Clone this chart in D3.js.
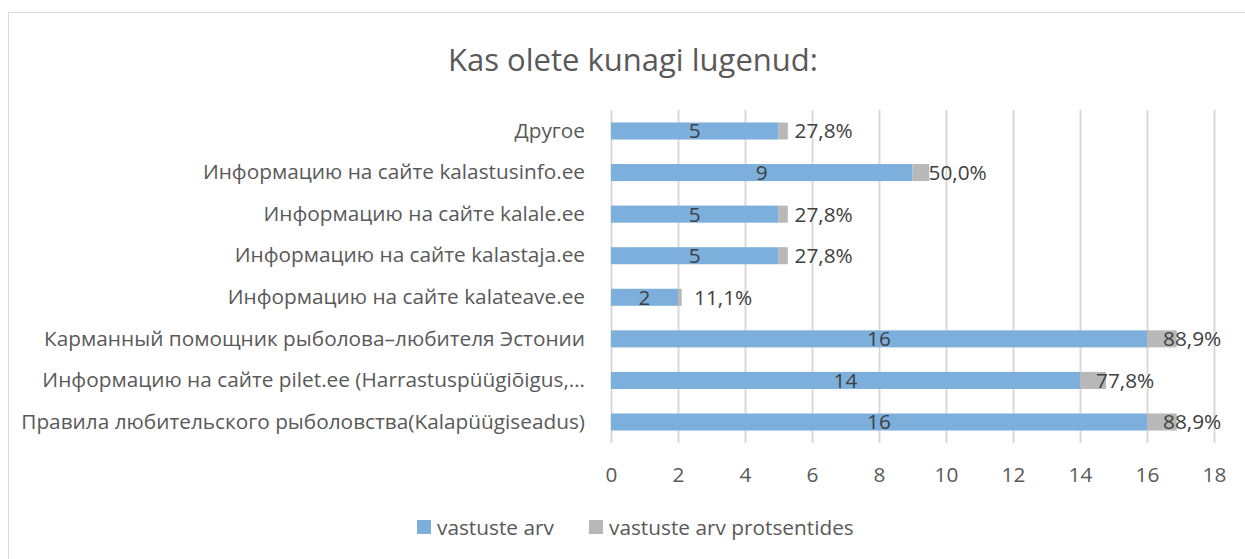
<!DOCTYPE html>
<html>
<head>
<meta charset="utf-8">
<script src="https://cdn.jsdelivr.net/npm/d3@7"></script>
<style>
  body { margin: 0; background: #fff; }
  text { font-family: "Open Sans", "Noto Sans", sans-serif; }
</style>
</head>
<body>
<div id="chart"></div>
<script>
// data
var categories = [
  "Другое",
  "Информацию на сайте kalastusinfo.ee",
  "Информацию на сайте kalale.ee",
  "Информацию на сайте kalastaja.ee",
  "Информацию на сайте kalateave.ee",
  "Карманный помощник рыболова–любителя Эстонии",
  "Информацию на сайте pilet.ee (Harrastuspüügiõigus,…",
  "Правила любительского рыболовства(Kalapüügiseadus)"
];
var counts = [5, 9, 5, 5, 2, 16, 14, 16];
var percents = [0.278, 0.5, 0.278, 0.278, 0.111, 0.889, 0.778, 0.889];
var percentLabels = ["27,8%", "50,0%", "27,8%", "27,8%", "11,1%", "88,9%", "77,8%", "88,9%"];
var xTicks = [0, 2, 4, 6, 8, 10, 12, 14, 16, 18];
var seriesNames = ["vastuste arv", "vastuste arv protsentides"];

var W = 1245, H = 559;
var margin = {top: 110, right: 31, bottom: 116, left: 611},
    width = W - margin.left - margin.right,
    height = H - margin.top - margin.bottom;

var blue = "#7dafdd", grey = "#b8b8b8";
var fs = "20.8px";

var svg = d3.select("#chart")
  .append("svg")
    .attr("width", W)
    .attr("height", H);

// chart border
svg.append("rect")
  .attr("x", 8.5).attr("y", 12.5)
  .attr("width", W + 10).attr("height", H + 10)
  .attr("fill", "none")
  .attr("stroke", "#d9d9d9");

// title
svg.append("text")
  .attr("x", 633)
  .attr("y", 71)
  .attr("text-anchor", "middle")
  .style("font-size", "31px")
  .style("fill", "#595959")
  .text("Kas olete kunagi lugenud:");

var g = svg.append("g")
  .attr("transform", "translate(" + margin.left + "," + margin.top + ")");

var x = d3.scaleLinear()
  .domain([0, 18])
  .range([0, width]);

var y = d3.scaleBand()
  .domain(categories)
  .range([0, height])
  .paddingInner(0.59)
  .paddingOuter(0.3);

// grid
g.append("g")
  .attr("class", "grid")
  .call(d3.axisBottom(x).tickValues(xTicks).tickSize(height).tickFormat(""))
  .call(function(s) {
    s.select(".domain").remove();
    s.selectAll("line").attr("stroke", "#d9d9d9").attr("stroke-width", 2);
  });

// x axis labels
g.append("g")
  .attr("transform", "translate(0," + height + ")")
  .call(d3.axisBottom(x).tickValues(xTicks).tickSize(0).tickPadding(24))
  .call(function(s) {
    s.select(".domain").remove();
    s.selectAll("text")
      .style("font-size", fs)
      .style("fill", "#595959")
      .style("font-family", "'Open Sans', sans-serif");
  });

// category labels
g.append("g")
  .call(d3.axisLeft(y).tickSize(0).tickPadding(26))
  .call(function(s) {
    s.select(".domain").remove();
    s.selectAll("text")
      .style("font-size", fs)
      .style("fill", "#595959")
      .style("font-family", "'Open Sans', sans-serif");
  });

var rows = categories.map(function(c, i) {
  return {cat: c, n: counts[i], p: percents[i], label: percentLabels[i]};
});

// blue bars
g.selectAll(".bar-n")
  .data(rows)
  .enter()
  .append("rect")
    .attr("x", x(0))
    .attr("y", function(d) { return y(d.cat); })
    .attr("width", function(d) { return x(d.n) - x(0); })
    .attr("height", y.bandwidth())
    .attr("fill", blue);

// grey segments
g.selectAll(".bar-p")
  .data(rows)
  .enter()
  .append("rect")
    .attr("x", function(d) { return x(d.n); })
    .attr("y", function(d) { return y(d.cat); })
    .attr("width", function(d) { return x(d.n + d.p) - x(d.n); })
    .attr("height", y.bandwidth())
    .attr("fill", grey);

// value labels
g.selectAll(".lab-n")
  .data(rows)
  .enter()
  .append("text")
    .attr("x", function(d) { return x(d.n / 2); })
    .attr("y", function(d) { return y(d.cat) + y.bandwidth() / 2; })
    .attr("dy", "0.36em")
    .attr("text-anchor", "middle")
    .style("font-size", fs)
    .style("fill", "#404040")
    .text(function(d) { return d.n; });

g.selectAll(".lab-p")
  .data(rows)
  .enter()
  .append("text")
    .attr("x", function(d) { return x(d.n) + 16; })
    .attr("y", function(d) { return y(d.cat) + y.bandwidth() / 2; })
    .attr("dy", "0.36em")
    .style("font-size", fs)
    .style("fill", "#404040")
    .text(function(d) { return d.label; });

// legend
var legend = svg.append("g").attr("transform", "translate(417,527)");
var legX = [0, 172];
seriesNames.forEach(function(name, i) {
  var lg = legend.append("g").attr("transform", "translate(" + legX[i] + ",0)");
  lg.append("rect")
    .attr("x", 0).attr("y", -7)
    .attr("width", 14).attr("height", 14)
    .attr("fill", i === 0 ? blue : grey);
  lg.append("text")
    .attr("x", 20).attr("y", 0)
    .attr("dy", "0.36em")
    .style("font-size", fs)
    .style("fill", "#595959")
    .text(name);
});
</script>
</body>
</html>
